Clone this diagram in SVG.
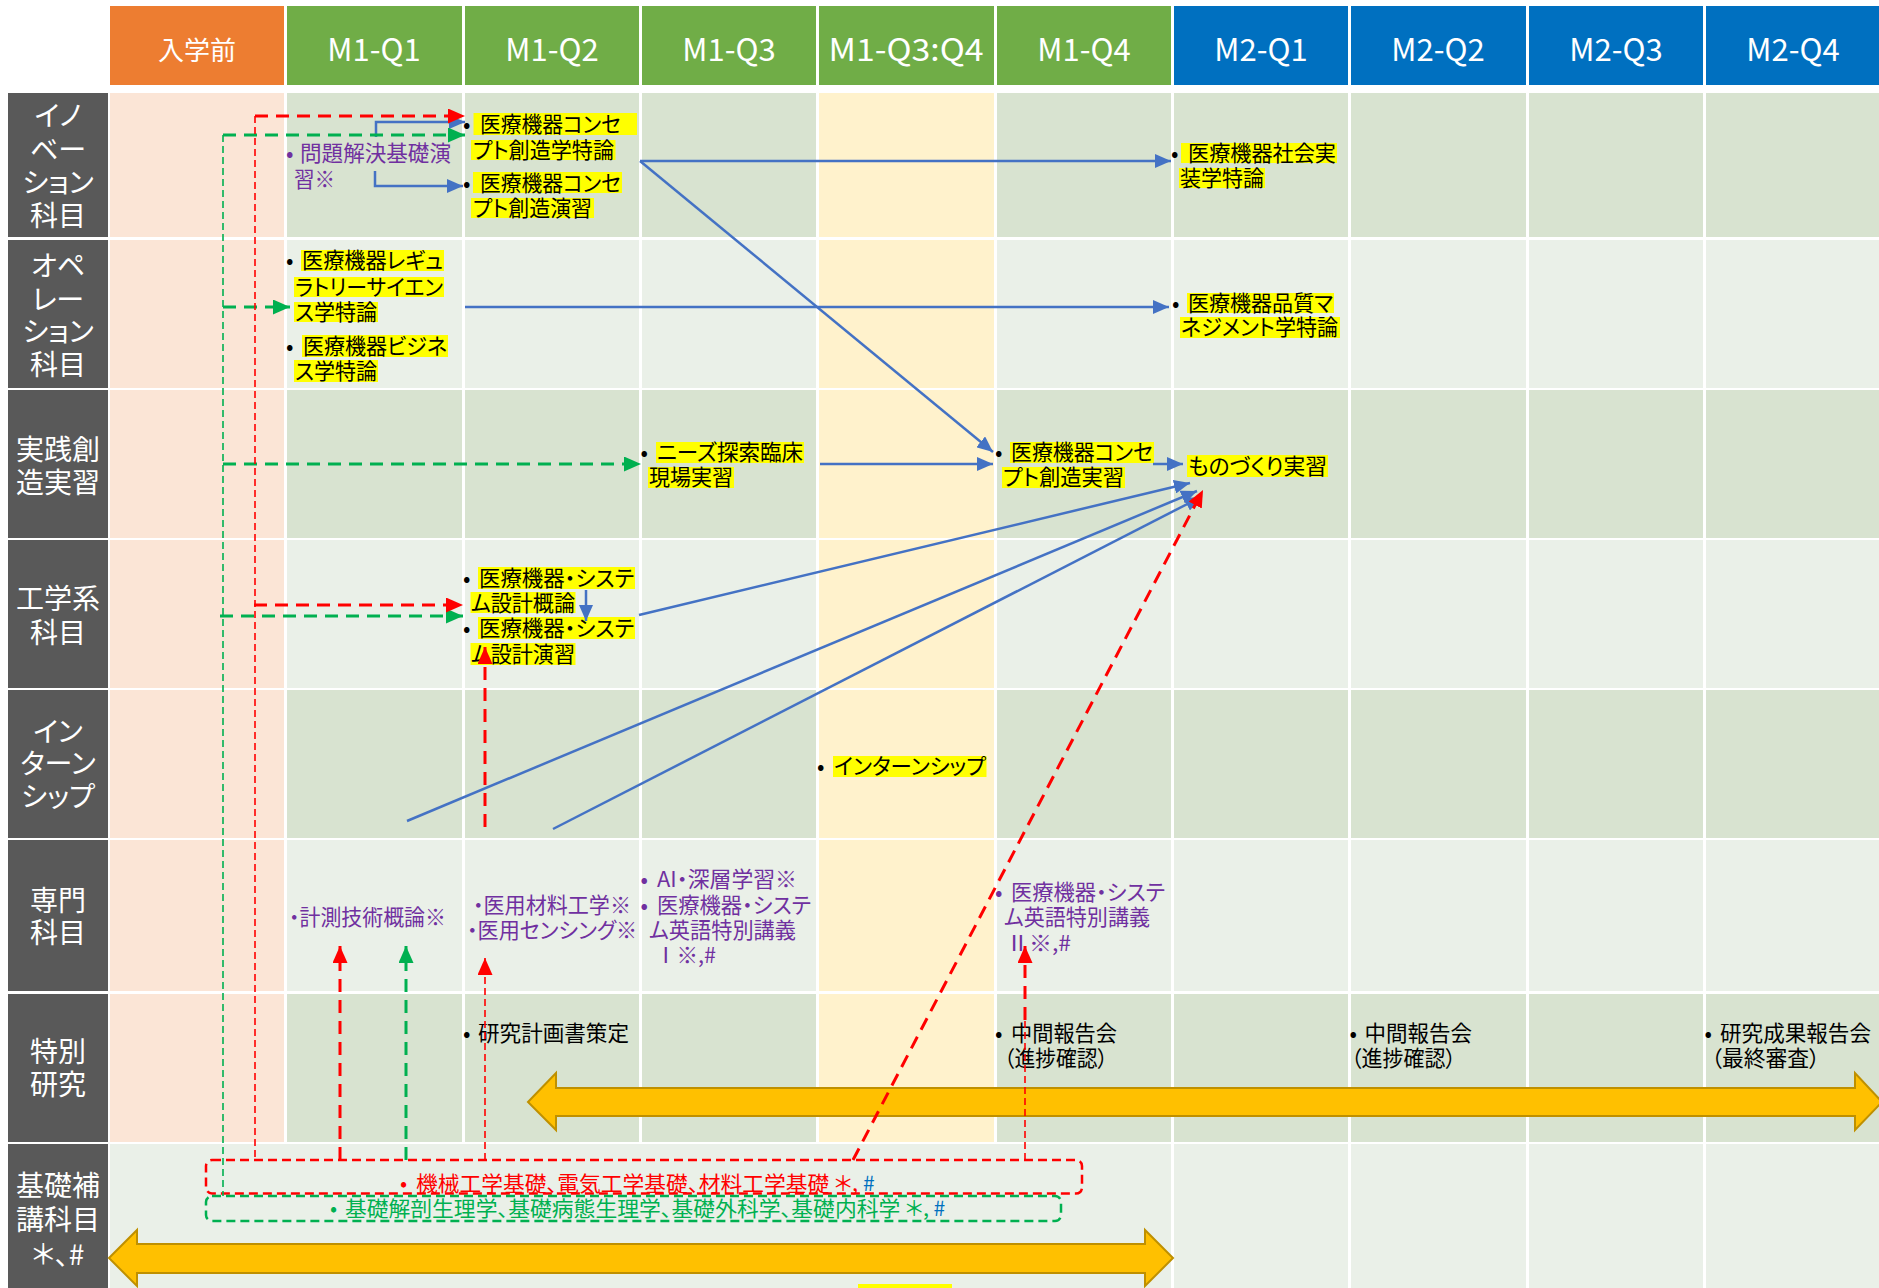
<svg xmlns="http://www.w3.org/2000/svg" width="1879" height="1288" viewBox="0 0 1879 1288">
<style>
.dk{fill:#D8E3D0}.lt{fill:#EAF0E8}.pre{fill:#FBE5D6}.q34{fill:#FFF2CC}.sep{fill:#FFFFFF}
.lab{fill:#595959}
.hd{font-family:"Noto Sans CJK JP","Noto Sans",sans-serif;font-size:31px;fill:#FFFFFF;text-anchor:middle}
.lb{font-family:"Noto Sans CJK JP","Noto Sans",sans-serif;font-size:28px;fill:#FFFFFF;text-anchor:middle;font-feature-settings:"palt"}
.tx{font-family:"Noto Sans CJK JP","Noto Sans",sans-serif;font-size:22px;font-feature-settings:"palt"}
.sm{font-size:21px}
.k{fill:#000000}.pu{fill:#7030A0}.rd{fill:#FF0000}.gr{fill:#00B050}.bl{fill:#0070C0}
.hl{fill:#FFFF00}
.big{fill:#FFC000;stroke:#BF9000;stroke-width:2}
.cb{fill:none;stroke:#4472C4;stroke-width:2.5}
.cr{fill:none;stroke:#FF0000;stroke-width:3;stroke-dasharray:13 8}
.crt{fill:none;stroke:#FF0000;stroke-width:1.6;stroke-dasharray:7 4}
.cg{fill:none;stroke:#00B050;stroke-width:3;stroke-dasharray:13 8}
.cgt{fill:none;stroke:#00B050;stroke-width:1.6;stroke-dasharray:7 4}
.boxr{fill:none;stroke:#FF0000;stroke-width:2.5;stroke-dasharray:9 5}
.boxg{fill:none;stroke:#00B050;stroke-width:2.5;stroke-dasharray:9 5}
</style>
<defs>
<marker id="ab" viewBox="0 0 16 14" refX="16" refY="7" markerWidth="16" markerHeight="14" orient="auto" markerUnits="userSpaceOnUse"><path d="M0,0 L16,7 L0,14 z" fill="#4472C4"/></marker>
<marker id="ar" viewBox="0 0 17 15" refX="17" refY="7.5" markerWidth="17" markerHeight="15" orient="auto" markerUnits="userSpaceOnUse"><path d="M0,0 L17,7.5 L0,15 z" fill="#FF0000"/></marker>
<marker id="ag" viewBox="0 0 17 15" refX="17" refY="7.5" markerWidth="17" markerHeight="15" orient="auto" markerUnits="userSpaceOnUse"><path d="M0,0 L17,7.5 L0,15 z" fill="#00B050"/></marker>
</defs>
<rect x="0" y="0" width="1879" height="1288" fill="#FFFFFF"/>

<g id="table">
  <rect class="dk" x="110" y="93" width="1770" height="144"/>
  <rect class="lt" x="110" y="240" width="1770" height="148"/>
  <rect class="dk" x="110" y="390" width="1770" height="148"/>
  <rect class="lt" x="110" y="540" width="1770" height="148"/>
  <rect class="dk" x="110" y="690" width="1770" height="148"/>
  <rect class="lt" x="110" y="840" width="1770" height="151"/>
  <rect class="dk" x="110" y="994" width="1770" height="148"/>
  <rect class="lt" x="110" y="1144" width="1770" height="144"/>
  <rect class="pre" x="110" y="93" width="174" height="144"/>
  <rect class="pre" x="110" y="240" width="174" height="148"/>
  <rect class="pre" x="110" y="390" width="174" height="148"/>
  <rect class="pre" x="110" y="540" width="174" height="148"/>
  <rect class="pre" x="110" y="690" width="174" height="148"/>
  <rect class="pre" x="110" y="840" width="174" height="151"/>
  <rect class="pre" x="110" y="994" width="174" height="148"/>
  <rect class="q34" x="819" y="93" width="175" height="144"/>
  <rect class="q34" x="819" y="240" width="175" height="148"/>
  <rect class="q34" x="819" y="390" width="175" height="148"/>
  <rect class="q34" x="819" y="540" width="175" height="148"/>
  <rect class="q34" x="819" y="690" width="175" height="148"/>
  <rect class="q34" x="819" y="840" width="175" height="151"/>
  <rect class="q34" x="819" y="994" width="175" height="148"/>
  <rect class="sep" x="284" y="93" width="3" height="1049"/>
  <rect class="sep" x="462" y="93" width="3" height="1049"/>
  <rect class="sep" x="639" y="93" width="3" height="1049"/>
  <rect class="sep" x="816" y="93" width="3" height="1049"/>
  <rect class="sep" x="994" y="93" width="3" height="1049"/>
  <rect class="sep" x="1171" y="93" width="3" height="1195"/>
  <rect class="sep" x="1348" y="93" width="3" height="1195"/>
  <rect class="sep" x="1526" y="93" width="3" height="1195"/>
  <rect class="sep" x="1703" y="93" width="3" height="1195"/>
  <rect class="hl" x="858" y="1284" width="94" height="4"/>
</g>

<g id="header">
  <rect x="110" y="6" width="174" height="79" fill="#ED7D31"/>
  <rect x="287" y="6" width="175" height="79" fill="#70AD47"/>
  <rect x="465" y="6" width="174" height="79" fill="#70AD47"/>
  <rect x="642" y="6" width="174" height="79" fill="#70AD47"/>
  <rect x="819" y="6" width="175" height="79" fill="#70AD47"/>
  <rect x="997" y="6" width="174" height="79" fill="#70AD47"/>
  <rect x="1174" y="6" width="174" height="79" fill="#0070C0"/>
  <rect x="1351" y="6" width="175" height="79" fill="#0070C0"/>
  <rect x="1529" y="6" width="174" height="79" fill="#0070C0"/>
  <rect x="1706" y="6" width="174" height="79" fill="#0070C0"/>
  <text class="hd" x="197" y="60" style="font-size:26px">入学前</text>
  <text class="hd" x="374" y="61">M1-Q1</text>
  <text class="hd" x="552" y="61">M1-Q2</text>
  <text class="hd" x="729" y="61">M1-Q3</text>
  <text class="hd" x="906" y="61" textLength="155" lengthAdjust="spacingAndGlyphs">M1-Q3:Q4</text>
  <text class="hd" x="1084" y="61">M1-Q4</text>
  <text class="hd" x="1261" y="61">M2-Q1</text>
  <text class="hd" x="1438" y="61">M2-Q2</text>
  <text class="hd" x="1616" y="61">M2-Q3</text>
  <text class="hd" x="1793" y="61">M2-Q4</text>
</g>

<g id="row-labels">
  <rect class="lab" x="8" y="93" width="100" height="144"/>
  <rect class="lab" x="8" y="240" width="100" height="148"/>
  <rect class="lab" x="8" y="390" width="100" height="148"/>
  <rect class="lab" x="8" y="540" width="100" height="148"/>
  <rect class="lab" x="8" y="690" width="100" height="148"/>
  <rect class="lab" x="8" y="840" width="100" height="151"/>
  <rect class="lab" x="8" y="994" width="100" height="148"/>
  <rect class="lab" x="8" y="1144" width="100" height="144"/>
  <text class="lb" x="58" y="126">イノ</text>
  <text class="lb" x="58" y="160">ベー</text>
  <text class="lb" x="58" y="193">ション</text>
  <text class="lb" x="58" y="226">科目</text>
  <text class="lb" x="58" y="276">オペ</text>
  <text class="lb" x="58" y="310">レー</text>
  <text class="lb" x="58" y="342">ション</text>
  <text class="lb" x="58" y="375">科目</text>
  <text class="lb" x="58" y="460">実践創</text>
  <text class="lb" x="58" y="493">造実習</text>
  <text class="lb" x="58" y="609">工学系</text>
  <text class="lb" x="58" y="643">科目</text>
  <text class="lb" x="58" y="742">イン</text>
  <text class="lb" x="58" y="774">ターン</text>
  <text class="lb" x="58" y="807">シップ</text>
  <text class="lb" x="58" y="911">専門</text>
  <text class="lb" x="58" y="943">科目</text>
  <text class="lb" x="58" y="1062">特別</text>
  <text class="lb" x="58" y="1095">研究</text>
  <text class="lb" x="58" y="1196">基礎補</text>
  <text class="lb" x="58" y="1230">講科目</text>
  <text class="lb" x="58" y="1265">＊、#</text>
</g>

<g id="period-arrows">
  <polygon class="big" points="528,1102 556,1073 556,1088 1855,1088 1855,1073 1882,1102 1855,1130 1855,1116 556,1116 556,1130"/>
  <polygon class="big" points="109,1258 137,1230 137,1244 1145,1244 1145,1230 1173,1258 1145,1286 1145,1273 137,1273 137,1286"/>
</g>

<g id="n-concept-theory">
  <rect class="hl" x="473.5" y="113" width="163.5" height="22"/>
  <rect class="hl" x="471" y="140" width="144.5" height="20"/>
  <text class="tx k" y="132"><tspan x="463">•</tspan><tspan x="480" textLength="141" lengthAdjust="spacingAndGlyphs">医療機器コンセ</tspan></text>
  <text class="tx k" x="473" y="158" textLength="141" lengthAdjust="spacingAndGlyphs">プト創造学特論</text>
</g>
<g id="n-concept-exercise">
  <rect class="hl" x="473" y="172" width="149" height="21"/>
  <rect class="hl" x="471" y="198" width="123" height="20"/>
  <text class="tx k" y="191"><tspan x="463">•</tspan><tspan x="480" textLength="141" lengthAdjust="spacingAndGlyphs">医療機器コンセ</tspan></text>
  <text class="tx k" x="473" y="216" textLength="119" lengthAdjust="spacingAndGlyphs">プト創造演習</text>
</g>
<g id="n-problem-solving">
  <text class="tx pu" y="161"><tspan x="286">•</tspan><tspan x="300" textLength="151" lengthAdjust="spacingAndGlyphs">問題解決基礎演</tspan></text>
  <text class="tx pu" x="294" y="187" textLength="41" lengthAdjust="spacingAndGlyphs">習※</text>
</g>
<g id="n-social">
  <rect class="hl" x="1181" y="143" width="156" height="20"/>
  <rect class="hl" x="1179" y="168" width="86" height="20"/>
  <text class="tx k" y="161"><tspan x="1171">•</tspan><tspan x="1188" textLength="148" lengthAdjust="spacingAndGlyphs">医療機器社会実</tspan></text>
  <text class="tx k" x="1180" y="186" textLength="84" lengthAdjust="spacingAndGlyphs">装学特論</text>
</g>
<g id="n-regulatory">
  <rect class="hl" x="301" y="250" width="143" height="21"/>
  <rect class="hl" x="294" y="277" width="150" height="20"/>
  <rect class="hl" x="294" y="302" width="84" height="20"/>
  <text class="tx k" y="268"><tspan x="286">•</tspan><tspan x="302" textLength="141" lengthAdjust="spacingAndGlyphs">医療機器レギュ</tspan></text>
  <text class="tx k" x="295" y="295" textLength="148" lengthAdjust="spacingAndGlyphs">ラトリーサイエン</text>
  <text class="tx k" x="295" y="320" textLength="82" lengthAdjust="spacingAndGlyphs">ス学特論</text>
</g>
<g id="n-business">
  <rect class="hl" x="302" y="335" width="146" height="22"/>
  <rect class="hl" x="294" y="360" width="84" height="22"/>
  <text class="tx k" y="354"><tspan x="286">•</tspan><tspan x="303" textLength="144" lengthAdjust="spacingAndGlyphs">医療機器ビジネ</tspan></text>
  <text class="tx k" x="295" y="379" textLength="82" lengthAdjust="spacingAndGlyphs">ス学特論</text>
</g>
<g id="n-quality">
  <rect class="hl" x="1187" y="293" width="147" height="20"/>
  <rect class="hl" x="1180" y="317" width="160" height="21"/>
  <text class="tx k" y="311"><tspan x="1172">•</tspan><tspan x="1188" textLength="145" lengthAdjust="spacingAndGlyphs">医療機器品質マ</tspan></text>
  <text class="tx k" x="1181" y="335" textLength="157" lengthAdjust="spacingAndGlyphs">ネジメント学特論</text>
</g>
<g id="n-needs">
  <rect class="hl" x="656" y="442" width="148" height="21"/>
  <rect class="hl" x="648" y="467" width="86" height="21"/>
  <text class="tx k" y="460"><tspan x="640.5">•</tspan><tspan x="657" textLength="146" lengthAdjust="spacingAndGlyphs">ニーズ探索臨床</tspan></text>
  <text class="tx k" x="649" y="485" textLength="84" lengthAdjust="spacingAndGlyphs">現場実習</text>
</g>
<g id="n-concept-practice">
  <rect class="hl" x="1010" y="442" width="144" height="21"/>
  <rect class="hl" x="1002" y="467" width="123" height="21"/>
  <text class="tx k" y="460"><tspan x="995">•</tspan><tspan x="1011" textLength="142" lengthAdjust="spacingAndGlyphs">医療機器コンセ</tspan></text>
  <text class="tx k" x="1003" y="485" textLength="121" lengthAdjust="spacingAndGlyphs">プト創造実習</text>
</g>
<g id="n-monozukuri">
  <rect class="hl" x="1187" y="455" width="141" height="22"/>
  <text class="tx k" x="1188" y="474" textLength="139" lengthAdjust="spacingAndGlyphs">ものづくり実習</text>
</g>
<g id="n-design-theory">
  <rect class="hl" x="478" y="567" width="157" height="22"/>
  <rect class="hl" x="470.5" y="592" width="105" height="21"/>
  <text class="tx k" y="586"><tspan x="463">•</tspan><tspan x="479" textLength="155" lengthAdjust="spacingAndGlyphs">医療機器・システ</tspan></text>
  <text class="tx k" x="471" y="611" textLength="104" lengthAdjust="spacingAndGlyphs">ム設計概論</text>
</g>
<g id="n-design-exercise">
  <rect class="hl" x="478" y="617" width="157" height="22"/>
  <rect class="hl" x="470.5" y="643" width="105" height="22"/>
  <text class="tx k" y="636"><tspan x="463">•</tspan><tspan x="479" textLength="155" lengthAdjust="spacingAndGlyphs">医療機器・システ</tspan></text>
  <text class="tx k" x="471" y="662" textLength="104" lengthAdjust="spacingAndGlyphs">ム設計演習</text>
</g>
<g id="n-internship">
  <rect class="hl" x="833" y="756" width="153.5" height="21"/>
  <text class="tx k" y="774"><tspan x="817">•</tspan><tspan x="834" textLength="152" lengthAdjust="spacingAndGlyphs">インターンシップ</tspan></text>
</g>
<g id="n-measurement">
  <text class="tx pu" x="289" y="925" textLength="157" lengthAdjust="spacingAndGlyphs">・計測技術概論※</text>
</g>
<g id="n-materials-sensing">
  <text class="tx pu" x="473" y="913" textLength="158" lengthAdjust="spacingAndGlyphs">・医用材料工学※</text>
  <text class="tx pu" x="467" y="938" textLength="170" lengthAdjust="spacingAndGlyphs">・医用センシング※</text>
</g>
<g id="n-ai">
  <text class="tx pu" y="887"><tspan x="640.5">•</tspan><tspan x="657" textLength="140" lengthAdjust="spacingAndGlyphs">AI・深層学習※</tspan></text>
</g>
<g id="n-english-1">
  <text class="tx pu" y="913"><tspan x="640.5">•</tspan><tspan x="657" textLength="154" lengthAdjust="spacingAndGlyphs">医療機器・システ</tspan></text>
  <text class="tx pu" x="649" y="938" textLength="147" lengthAdjust="spacingAndGlyphs">ム英語特別講義</text>
  <text class="tx pu" x="655" y="963" textLength="61" lengthAdjust="spacingAndGlyphs">Ⅰ※,#</text>
</g>
<g id="n-english-2">
  <text class="tx pu" y="900"><tspan x="995">•</tspan><tspan x="1011" textLength="154" lengthAdjust="spacingAndGlyphs">医療機器・システ</tspan></text>
  <text class="tx pu" x="1004" y="925" textLength="146" lengthAdjust="spacingAndGlyphs">ム英語特別講義</text>
  <text class="tx pu" x="1006" y="951" textLength="65" lengthAdjust="spacingAndGlyphs">Ⅱ※,#</text>
</g>
<g id="n-research-plan">
  <text class="tx k" y="1041"><tspan x="463">•</tspan><tspan x="478" textLength="151" lengthAdjust="spacingAndGlyphs">研究計画書策定</tspan></text>
</g>
<g id="n-interim-1">
  <text class="tx k" y="1041"><tspan x="995">•</tspan><tspan x="1011" textLength="106" lengthAdjust="spacingAndGlyphs">中間報告会</tspan></text>
  <text class="tx k" x="1004" y="1066" textLength="104" lengthAdjust="spacingAndGlyphs">（進捗確認）</text>
</g>
<g id="n-interim-2">
  <text class="tx k" y="1041"><tspan x="1349.5">•</tspan><tspan x="1364.5" textLength="107.5" lengthAdjust="spacingAndGlyphs">中間報告会</tspan></text>
  <text class="tx k" x="1351" y="1066" textLength="105" lengthAdjust="spacingAndGlyphs">（進捗確認）</text>
</g>
<g id="n-final">
  <text class="tx k" y="1041"><tspan x="1704.6">•</tspan><tspan x="1720" textLength="151" lengthAdjust="spacingAndGlyphs">研究成果報告会</tspan></text>
  <text class="tx k" x="1711" y="1066" textLength="109" lengthAdjust="spacingAndGlyphs">（最終審査）</text>
</g>
<g id="n-remedial-eng">
  <rect class="boxr" x="206" y="1160" width="876" height="33.5" rx="6"/>
  <text class="tx sm rd" y="1191"><tspan x="400">•</tspan><tspan x="416" textLength="442" lengthAdjust="spacingAndGlyphs">機械工学基礎、電気工学基礎、材料工学基礎 ＊,</tspan><tspan class="bl" x="863">#</tspan></text>
</g>
<g id="n-remedial-med">
  <rect class="boxg" x="206" y="1196" width="855" height="25" rx="6"/>
  <text class="tx sm gr" y="1216"><tspan x="330">•</tspan><tspan x="345" textLength="584" lengthAdjust="spacingAndGlyphs">基礎解剖生理学、基礎病態生理学、基礎外科学、基礎内科学 ＊,</tspan><tspan class="bl" x="933.5">#</tspan></text>
</g>

<g id="connectors">
  <path class="cb" d="M376,137 V122 H465" marker-end="url(#ab)"/>
  <path class="cb" d="M375,171 V186 H463" marker-end="url(#ab)"/>
  <line class="cb" x1="640" y1="161" x2="1171" y2="161" marker-end="url(#ab)"/>
  <line class="cb" x1="640" y1="161" x2="993" y2="452" marker-end="url(#ab)"/>
  <line class="cb" x1="465" y1="307" x2="1169" y2="307" marker-end="url(#ab)"/>
  <line class="cb" x1="820" y1="464" x2="993" y2="464" marker-end="url(#ab)"/>
  <line class="cb" x1="1153" y1="464" x2="1183" y2="464" marker-end="url(#ab)"/>
  <line class="cb" x1="586" y1="590" x2="586" y2="621" marker-end="url(#ab)"/>
  <line class="cb" x1="639" y1="615" x2="1190" y2="483" marker-end="url(#ab)"/>
  <line class="cb" x1="407" y1="821" x2="1197" y2="491" marker-end="url(#ab)"/>
  <line class="cb" x1="553" y1="829" x2="1201" y2="497" marker-end="url(#ab)"/>
  <line class="cgt" x1="223" y1="135" x2="223" y2="1196"/>
  <line class="cg" x1="223" y1="135" x2="465" y2="135" marker-end="url(#ag)"/>
  <line class="cg" x1="223" y1="307" x2="290" y2="307" marker-end="url(#ag)"/>
  <line class="cg" x1="223" y1="464" x2="641" y2="464" marker-end="url(#ag)"/>
  <line class="cg" x1="220" y1="616" x2="463" y2="616" marker-end="url(#ag)"/>
  <line class="cg" x1="406" y1="1160" x2="406" y2="946" marker-end="url(#ag)"/>
  <line class="crt" x1="255" y1="116" x2="255" y2="1160"/>
  <line class="cr" x1="255" y1="116" x2="465" y2="116" marker-end="url(#ar)"/>
  <line class="cr" x1="254" y1="605" x2="463" y2="605" marker-end="url(#ar)"/>
  <line class="cr" x1="340" y1="1160" x2="340" y2="946" marker-end="url(#ar)"/>
  <line class="crt" x1="485" y1="1160" x2="485" y2="958" marker-end="url(#ar)"/>
  <line class="cr" x1="485" y1="827" x2="485" y2="647" marker-end="url(#ar)"/>
  <line class="crt" x1="1025" y1="1160" x2="1025" y2="1020"/>
  <line class="cr" x1="1025" y1="1020" x2="1025" y2="946" marker-end="url(#ar)"/>
  <line class="cr" x1="853" y1="1160" x2="1203" y2="490" marker-end="url(#ar)"/>
</g>
</svg>
